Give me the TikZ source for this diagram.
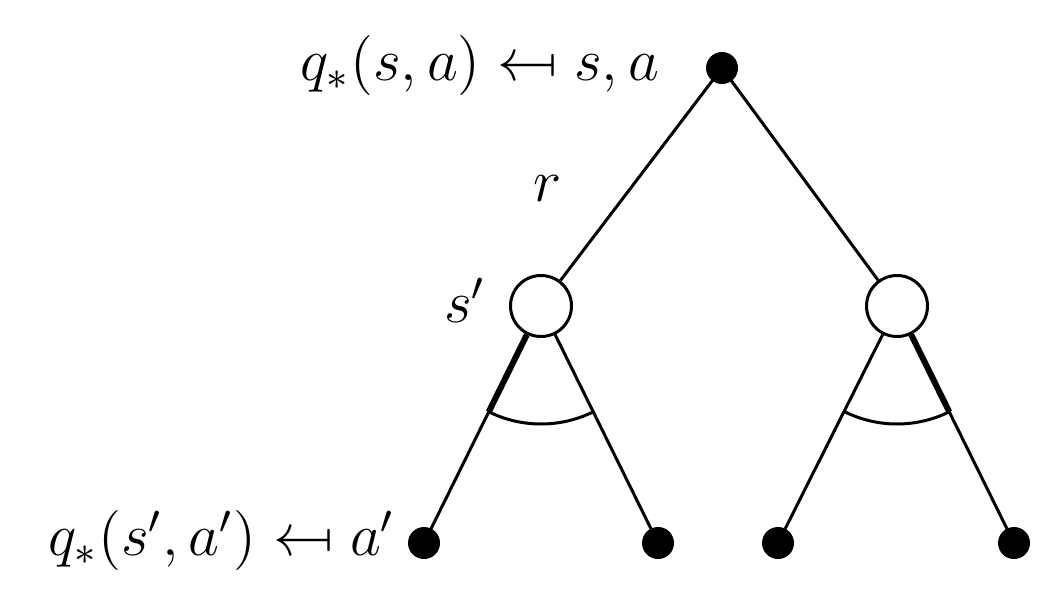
\documentclass[tikz,border=0pt]{standalone}
\usepackage{graphicx}
\usetikzlibrary{calc}
\newcommand{\mymapsfrom}{\mathrel{\reflectbox{$\mapsto$}}}
\begin{document}
\begin{tikzpicture}[x=0.2pt,y=0.2pt,
  edge/.style={line width=0.6pt},
  chosen/.style={line width=1.2pt},
  fulldot/.style={circle,fill=black,inner sep=0pt,minimum size=6.4pt},
  opendot/.style={circle,draw=black,fill=white,line width=0.6pt,inner sep=0pt,minimum size=12.2pt},
  lab/.style={inner sep=0pt,font=\large}]
\useasboundingbox (0,0) rectangle (1050,602);
\node[fulldot] (top) at (722,534) {};
\node[opendot] (c1) at (541,296) {};
\node[opendot] (c2) at (897,296) {};
\node[fulldot] (l1) at (424,59) {};
\node[fulldot] (l2) at (658,59) {};
\node[fulldot] (l3) at (778,59) {};
\node[fulldot] (l4) at (1014,59) {};
\draw[edge] (top.center) -- (c1);
\draw[edge] (top.center) -- (c2);
\draw[edge] (c1) -- (l1.center);
\draw[edge] (c1) -- (l2.center);
\draw[edge] (c2) -- (l3.center);
\draw[edge] (c2) -- (l4.center);
\coordinate (a1) at ($(c1.center)!23.6pt!(l1.center)$);
\coordinate (a4) at ($(c2.center)!23.6pt!(l4.center)$);
\draw[chosen] (c1) -- (a1);
\draw[chosen] (c2) -- (a4);
\draw[edge] ($(c1.center)+(243.7:118)$) arc[start angle=243.7,end angle=296.3,radius=118];
\draw[edge] ($(c2.center)+(243.7:118)$) arc[start angle=243.7,end angle=296.3,radius=118];
\node[lab,anchor=base east] (t1) at (660,522) {$q_*(s,a)\mymapsfrom s,a$};
\node[lab,anchor=base east] (t2) at (396,47) {$q_*(s',a')\mymapsfrom a'$};
\node[lab] (r) at (548,413) {$r$};
\node[lab] (sp) at (465,302) {$s'$};
\end{tikzpicture}
\end{document}
